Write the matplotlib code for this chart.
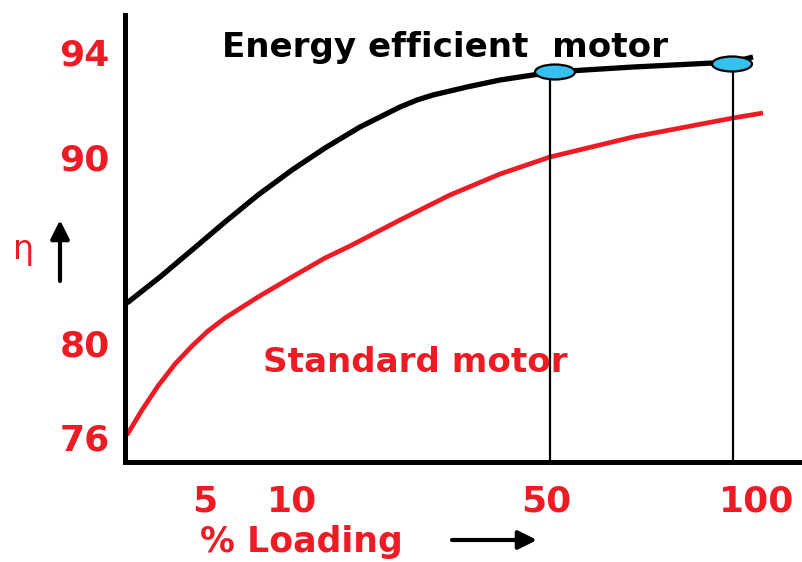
import matplotlib
matplotlib.use('Agg')
import matplotlib.pyplot as plt
from matplotlib.patches import Ellipse

# schematic chart units (axis is not to scale in the original sketch)
eff_x = [2, 35, 67, 100, 133, 167, 200, 235, 275, 292, 308, 342, 375, 408, 428, 508, 608, 628]
eff_y = [159, 185, 212, 240, 267, 292, 314, 335, 355, 362, 367, 375, 382, 387, 390, 395, 400, 405]

std_x = [2, 17, 33, 50, 67, 83, 100, 133, 167, 200, 225, 275, 325, 375, 425, 508, 608, 638]
std_y = [27, 52, 76, 98, 116, 131, 144, 165, 185, 204, 216, 242, 267, 288, 305, 325, 344, 349]

# operating points marked on the energy efficient curve
mark_x = [430, 607]
mark_y = [390, 398]
drop_x = [425, 608]

load_pos = [80, 167, 421, 632]
load_labels = ['5', '10', '50', '100']
eta_pos = [25, 119, 305, 410]
eta_labels = ['76', '80', '90', '94']

RED = '#ED1C24'
W, H = 802, 562

fig = plt.figure(figsize=(W / 100, H / 100), dpi=100)
ax = fig.add_axes([125 / W, 100 / H, 677 / W, 447 / H])
ax.set_xlim(0, 677)
ax.set_ylim(0, 447)

ax.plot(eff_x, eff_y, color='black', lw=3.8, solid_capstyle='butt',
		solid_joinstyle='round')
ax.plot(std_x, std_y, color=RED, lw=3.4, solid_capstyle='butt',
		solid_joinstyle='round')

ax.vlines(drop_x, 0, [mark_y[0], mark_y[1]], color='black', lw=1.6)
for mx, my in zip(mark_x, mark_y):
	ax.add_patch(Ellipse((mx, my), 40, 15, facecolor='#36C0EE',
						 edgecolor='black', lw=1.6, zorder=5))

for side in ['top', 'right']:
	ax.spines[side].set_visible(False)
for side in ['left', 'bottom']:
	ax.spines[side].set_linewidth(3.6)

ax.set_xticks(load_pos)
ax.set_xticklabels(load_labels)
ax.set_yticks(eta_pos)
ax.set_yticklabels(eta_labels)
ax.tick_params(axis='both', length=0, labelcolor=RED, labelsize=26)
ax.tick_params(axis='x', pad=16)
ax.tick_params(axis='y', pad=11)
for lab in ax.get_xticklabels() + ax.get_yticklabels():
	lab.set_fontweight('bold')

ax.text(97, 405, 'Energy efficient  motor', fontsize=24.6, fontweight='bold',
		color='black', va='baseline', ha='left')
ax.text(138, 90, 'Standard motor', fontsize=24.6, fontweight='bold',
		color=RED, va='baseline', ha='left')

fig.text(200 / W, 1 - 552 / H, '% Loading', fontsize=25, fontweight='bold',
		 color=RED, va='baseline', ha='left')
fig.text(24 / W, 1 - 250 / H, '\u03b7', fontsize=24, color=RED,
		 va='center', ha='center')

# direction arrows
ax.annotate('', xy=(60 / W, 1 - 220 / H), xytext=(60 / W, 1 - 281 / H),
			xycoords='figure fraction', textcoords='figure fraction',
			arrowprops=dict(arrowstyle='-|>', lw=3, color='black',
							mutation_scale=28, shrinkA=0, shrinkB=0))
ax.annotate('', xy=(537 / W, 1 - 540 / H), xytext=(452 / W, 1 - 540 / H),
			xycoords='figure fraction', textcoords='figure fraction',
			arrowprops=dict(arrowstyle='-|>', lw=3, color='black',
							mutation_scale=28, shrinkA=0, shrinkB=0))

fig.savefig('out.png', dpi=100)
